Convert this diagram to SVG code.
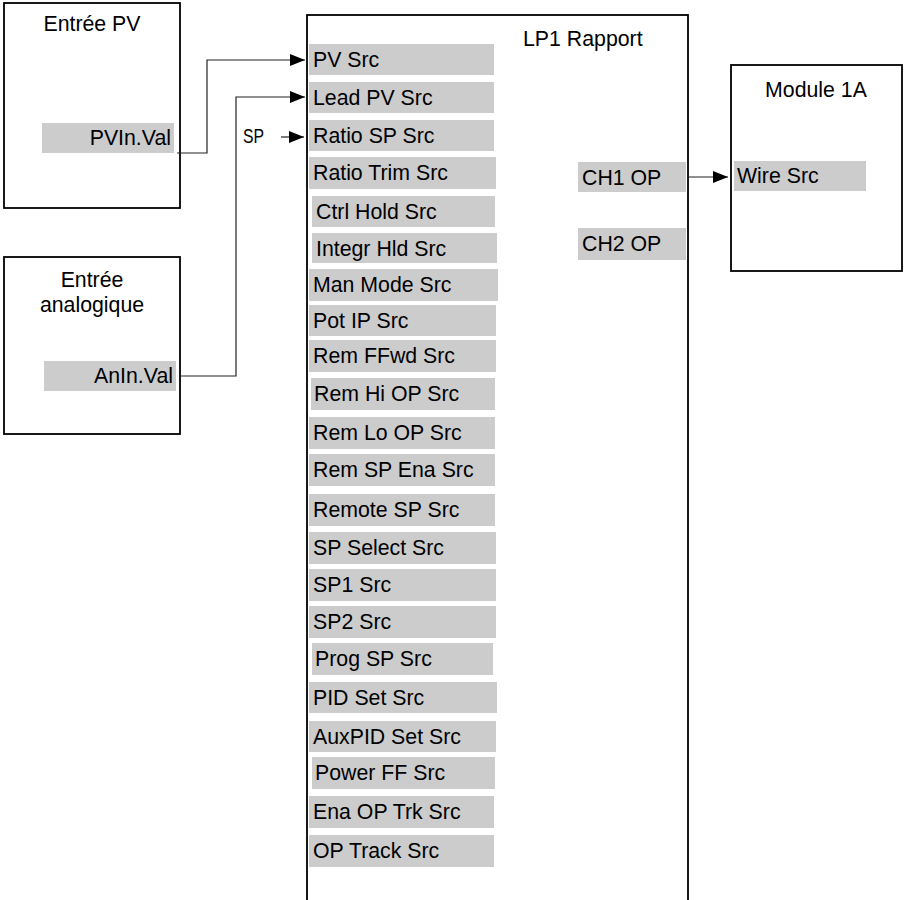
<svg xmlns="http://www.w3.org/2000/svg" width="904" height="900" viewBox="0 0 904 900">
<style>
.box{fill:#fff;stroke:#000;stroke-width:1.8}
.row{fill:#cccccc}
text{font-family:"Liberation Sans",Arial,sans-serif;font-size:21.3px;fill:#000}
.t{text-anchor:middle}
.r{text-anchor:end}
.con{fill:none;stroke:#222;stroke-width:1.2}
</style>
<defs>
<marker id="ah" markerUnits="userSpaceOnUse" markerWidth="16" markerHeight="13" refX="15" refY="6.5" orient="auto">
<path d="M0,0.5 L15,6.5 L0,12.5 Z" fill="#000"/>
</marker>
</defs>
<rect width="904" height="900" fill="#fff"/>
<g id="entree-pv">
<rect class="box" x="4" y="3" width="176" height="205"/>
<text class="t" x="92" y="31">Entrée PV</text>
<rect class="row" x="42" y="123" width="132" height="30"/>
<text class="r" x="171" y="145">PVIn.Val</text>
</g>
<g id="entree-analogique">
<rect class="box" x="4" y="257" width="176" height="177"/>
<text class="t" x="92" y="287">Entrée</text>
<text class="t" x="92" y="312">analogique</text>
<rect class="row" x="44" y="361" width="132" height="30"/>
<text class="r" x="173" y="383">AnIn.Val</text>
</g>
<g id="lp1-rapport">
<rect class="box" x="307" y="15" width="381" height="900"/>
<text x="523" y="45.5">LP1 Rapport</text>
<rect class="row" x="309" y="44" width="185" height="31"/><text x="313" y="67">PV Src</text>
<rect class="row" x="309" y="82" width="185" height="31"/><text x="313" y="105">Lead PV Src</text>
<rect class="row" x="309" y="120" width="185" height="31"/><text x="313" y="143">Ratio SP Src</text>
<rect class="row" x="309" y="157" width="187" height="32"/><text x="313" y="180">Ratio Trim Src</text>
<rect class="row" x="312" y="196" width="183" height="31"/><text x="316" y="219">Ctrl Hold Src</text>
<rect class="row" x="312" y="233" width="185" height="30"/><text x="316" y="256">Integr Hld Src</text>
<rect class="row" x="309" y="269" width="189" height="32"/><text x="313" y="292">Man Mode Src</text>
<rect class="row" x="309" y="305" width="187" height="31"/><text x="313" y="328">Pot IP Src</text>
<rect class="row" x="309" y="340" width="187" height="32"/><text x="313" y="363">Rem FFwd Src</text>
<rect class="row" x="311" y="378" width="184" height="32"/><text x="314" y="401">Rem Hi OP Src</text>
<rect class="row" x="309" y="417" width="186" height="32"/><text x="313" y="440">Rem Lo OP Src</text>
<rect class="row" x="309" y="454" width="186" height="32"/><text x="313" y="477">Rem SP Ena Src</text>
<rect class="row" x="309" y="494" width="186" height="32"/><text x="313" y="517">Remote SP Src</text>
<rect class="row" x="309" y="532" width="187" height="32"/><text x="313" y="555">SP Select Src</text>
<rect class="row" x="309" y="569" width="187" height="32"/><text x="313" y="592">SP1 Src</text>
<rect class="row" x="309" y="606" width="187" height="32"/><text x="313" y="629">SP2 Src</text>
<rect class="row" x="312" y="643" width="181" height="32"/><text x="315" y="666">Prog SP Src</text>
<rect class="row" x="309" y="682" width="188" height="31"/><text x="313" y="705">PID Set Src</text>
<rect class="row" x="309" y="721" width="187" height="31"/><text x="313" y="744">AuxPID Set Src</text>
<rect class="row" x="312" y="757" width="183" height="32"/><text x="315" y="780">Power FF Src</text>
<rect class="row" x="309" y="796" width="185" height="32"/><text x="313" y="819">Ena OP Trk Src</text>
<rect class="row" x="309" y="835" width="185" height="32"/><text x="313" y="858">OP Track Src</text>
<rect class="row" x="578" y="162" width="108" height="30"/><text x="582" y="185">CH1 OP</text>
<rect class="row" x="578" y="228" width="108" height="32"/><text x="582" y="251">CH2 OP</text>
</g>
<g id="module-1a">
<rect class="box" x="731" y="65" width="171" height="206"/>
<text class="t" x="816" y="97">Module 1A</text>
<rect class="row" x="734" y="161" width="132" height="30"/>
<text x="737" y="183">Wire Src</text>
</g>
<g id="sp-label">
<text x="243" y="143" style="font-size:19.5px" textLength="21" lengthAdjust="spacingAndGlyphs">SP</text>
</g>
<g id="connectors">
<path class="con" d="M177,153 H207 V60 H305" marker-end="url(#ah)"/>
<path class="con" d="M180,376 H236 V97 H305" marker-end="url(#ah)"/>
<path class="con" d="M281,137 H304" marker-end="url(#ah)"/>
<path class="con" d="M688,177 H728" marker-end="url(#ah)"/>
</g>
</svg>
